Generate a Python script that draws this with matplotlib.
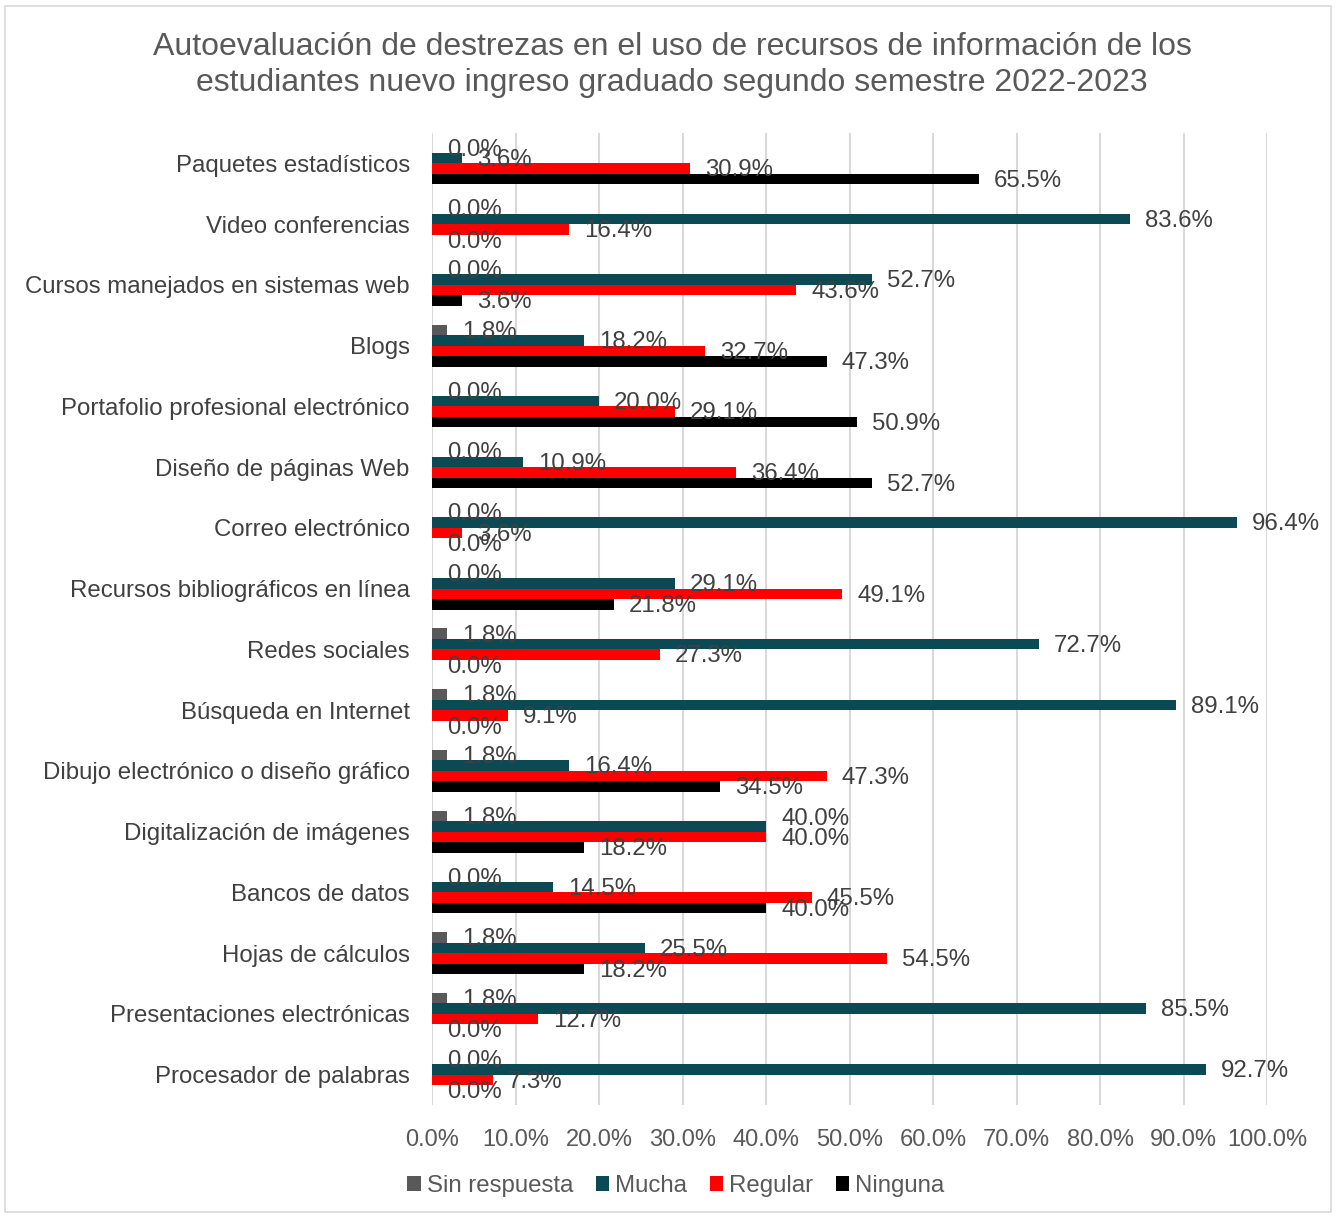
import matplotlib
matplotlib.use("Agg")
import matplotlib.pyplot as plt
from matplotlib.patches import Rectangle
import numpy as np

plt.rcParams['font.family'] = ['Liberation Sans', 'DejaVu Sans']

categories = [
    "Paquetes estadísticos",
    "Video conferencias",
    "Cursos manejados en sistemas web",
    "Blogs",
    "Portafolio profesional electrónico",
    "Diseño de páginas Web",
    "Correo electrónico",
    "Recursos bibliográficos en línea",
    "Redes sociales",
    "Búsqueda en Internet",
    "Dibujo electrónico o diseño gráfico",
    "Digitalización de imágenes",
    "Bancos de datos",
    "Hojas de cálculos",
    "Presentaciones electrónicas",
    "Procesador de palabras",
]
sin_respuesta = [0.0, 0.0, 0.0, 1.8, 0.0, 0.0, 0.0, 0.0, 1.8, 1.8, 1.8, 1.8, 0.0, 1.8, 1.8, 0.0]
mucha = [3.6, 83.6, 52.7, 18.2, 20.0, 10.9, 96.4, 29.1, 72.7, 89.1, 16.4, 40.0, 14.5, 25.5, 85.5, 92.7]
regular = [30.9, 16.4, 43.6, 32.7, 29.1, 36.4, 3.6, 49.1, 27.3, 9.1, 47.3, 40.0, 45.5, 54.5, 12.7, 7.3]
ninguna = [65.5, 0.0, 3.6, 47.3, 50.9, 52.7, 0.0, 21.8, 0.0, 0.0, 34.5, 18.2, 40.0, 18.2, 0.0, 0.0]
series_names = ["Sin respuesta", "Mucha", "Regular", "Ninguna"]
x_ticks = [0, 10, 20, 30, 40, 50, 60, 70, 80, 90, 100]

colors = ["#595959", "#0B4A55", "#FF0000", "#000000"]
series = [sin_respuesta, mucha, regular, ninguna]

fig = plt.figure(figsize=(13.36, 12.18), dpi=100)
ax = fig.add_axes([432/1336, 1 - 1105/1218, 835/1336, 972/1218])

n = len(categories)
y = np.arange(n)
h = 0.172
offsets = [-1.5 * h, -0.5 * h, 0.5 * h, 1.5 * h]
for si, (vals, col, off, name) in enumerate(zip(series, colors, offsets, series_names)):
    ax.barh(y + off, vals, height=h, color=col, label=name, zorder=3)
    for i, (yi, v) in enumerate(zip(y, vals)):
        dy = 0.03
        # nudge apart labels that would sit on top of each other (like Excel does)
        if si == 1 and v > 5 and abs(v - regular[i]) < 0.5:
            dy = -0.13
        ax.text(v + 1.8, yi + off + dy, f"{v:.1f}%", va='center', ha='left',
                fontsize=17.3, color='#404040', zorder=4)

ax.set_ylim(n - 0.5, -0.5)
ax.set_xlim(0, 100)
ax.set_yticks(y)
ax.set_yticklabels(categories, fontsize=17.3, color='#404040')
ax.set_xticks(x_ticks)
ax.set_xticklabels([f"{t:.1f}%" for t in x_ticks], fontsize=17, color='#595959')
ax.xaxis.grid(True, color='#D9D9D9', linewidth=1.5, zorder=0)
ax.tick_params(axis='y', length=0, pad=16)
ax.tick_params(axis='x', length=0, pad=17)
for s in ax.spines.values():
    s.set_visible(False)

fig.text(672/1336, 1 - 65/1218,
         "Autoevaluación de destrezas en el uso de recursos de información de los\n"
         "estudiantes nuevo ingreso graduado segundo semestre 2022-2023",
         ha='center', va='center', fontsize=23, color='#595959', linespacing=1.22)

handles, labels = ax.get_legend_handles_labels()
leg = fig.legend(handles, labels, loc='center', bbox_to_anchor=(676/1336, 1 - 1186/1218),
                 ncol=4, frameon=False, fontsize=17.3, handlelength=0.55, handleheight=0.55,
                 handletextpad=0.25, columnspacing=0.95)
for t in leg.get_texts():
    t.set_color('#595959')

fig.patches.append(Rectangle((5/1336, 6/1218), 1326/1336, 1206/1218, transform=fig.transFigure,
                             fill=False, edgecolor='#D9D9D9', linewidth=1.2))

fig.savefig("out.png", dpi=100)
